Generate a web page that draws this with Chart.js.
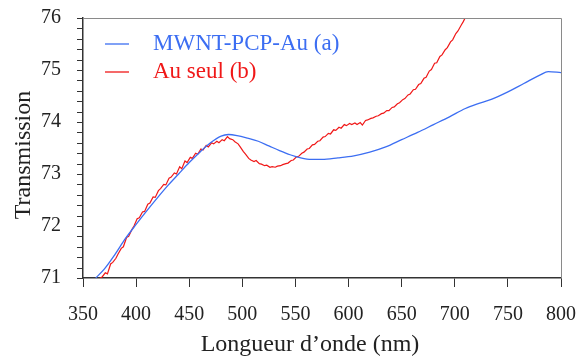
<!DOCTYPE html>
<html>
<head>
<meta charset="utf-8">
<script src="https://cdn.jsdelivr.net/npm/chart.js@4/dist/chart.umd.min.js"></script>
<style>
    html, body { margin: 0; padding: 0; background: #fff; }
    #wrap { width: 580px; height: 356px; position: relative; }
</style>
</head>
<body>
<div id="wrap"><canvas id="transChart"></canvas></div>
<script>
// ===== Data =====
const seriesNames = ['MWNT-PCP-Au (a)', 'Au seul (b)'];
const xTitle = 'Longueur d\u2019onde (nm)';
const yTitle = 'Transmission';
const xTicks = [350, 400, 450, 500, 550, 600, 650, 700, 750, 800];
const yTicks = [71, 72, 73, 74, 75, 76];
const yMinorPerMajor = 5;

// Courbe (a) MWNT-PCP-Au
const blueWl = [362, 370, 380, 390, 400, 410, 420, 430, 440, 450, 460, 470, 480, 487, 495, 505, 515, 525, 535, 545, 555, 565, 575, 590, 605, 620, 635, 650, 665, 680, 695, 710, 720, 735, 750, 765, 780, 788, 800];
const blueT = [71.0, 71.17, 71.45, 71.76, 72.03, 72.29, 72.54, 72.78, 73.0, 73.22, 73.42, 73.6, 73.73, 73.76, 73.74, 73.69, 73.63, 73.54, 73.45, 73.37, 73.31, 73.28, 73.28, 73.31, 73.35, 73.42, 73.52, 73.66, 73.8, 73.95, 74.1, 74.26, 74.34, 74.44, 74.58, 74.74, 74.9, 74.97, 74.95];

// Courbe (b) Au seul
const redWl = [366, 368, 371, 373, 376, 378, 381, 383, 386, 388, 391, 393, 396, 398, 401, 403, 406, 408, 411, 413, 416, 418, 421, 423, 426, 428, 431, 433, 436, 438, 441, 443, 446, 448, 451, 453, 456, 458, 461, 463, 466, 468, 471, 473, 476, 478, 481, 483, 486, 488, 491, 493, 496, 498, 501, 503, 506, 508, 511, 513, 516, 518, 521, 523, 526, 528, 531, 533, 536, 538, 541, 543, 546, 548, 551, 553, 556, 558, 561, 563, 566, 568, 571, 573, 576, 578, 581, 583, 586, 588, 591, 593, 596, 598, 601, 603, 606, 608, 611, 613, 616, 618, 621, 623, 626, 628, 631, 633, 636, 638, 641, 643, 646, 648, 651, 653, 656, 658, 661, 663, 666, 668, 671, 673, 676, 678, 681, 683, 686, 688, 691, 693, 696, 698, 701, 703, 706, 708, 711];
const redT = [71.0, 71.02, 71.1, 71.08, 71.27, 71.3, 71.38, 71.46, 71.57, 71.6, 71.78, 71.8, 71.93, 72.0, 72.14, 72.16, 72.27, 72.28, 72.42, 72.44, 72.56, 72.55, 72.68, 72.72, 72.8, 72.79, 72.92, 72.94, 73.02, 73.0, 73.14, 73.1, 73.25, 73.22, 73.32, 73.3, 73.4, 73.38, 73.48, 73.46, 73.55, 73.52, 73.6, 73.58, 73.63, 73.6, 73.66, 73.64, 73.72, 73.68, 73.66, 73.62, 73.58, 73.52, 73.43, 73.38, 73.3, 73.27, 73.24, 73.26, 73.2, 73.19, 73.16, 73.17, 73.13, 73.14, 73.13, 73.15, 73.16, 73.18, 73.2, 73.21, 73.26, 73.27, 73.33, 73.34, 73.4, 73.42, 73.48, 73.49, 73.56, 73.57, 73.63, 73.64, 73.71, 73.72, 73.78, 73.77, 73.85, 73.84, 73.9, 73.88, 73.95, 73.93, 73.97, 73.95, 73.98, 73.95, 73.99, 73.94, 74.03, 74.04, 74.07, 74.08, 74.11, 74.12, 74.16, 74.17, 74.22, 74.22, 74.28, 74.29, 74.35, 74.37, 74.43, 74.45, 74.52, 74.54, 74.62, 74.63, 74.72, 74.74, 74.84, 74.86, 74.98, 75.01, 75.13, 75.14, 75.26, 75.29, 75.39, 75.43, 75.54, 75.58, 75.7, 75.75, 75.86, 75.93, 76.05];

const BLUE = '#3c6ef2';
const RED = '#f01818';
const FONT = "'Liberation Serif', 'DejaVu Serif', serif";

const toPoints = (xs, ys) => xs.map((x, i) => ({ x: x, y: ys[i] }));

// valeurs des ticks Y (majeurs + mineurs)
const yTickValues = () => {
    const out = [];
    for (let i = 0; i < yTicks.length; i++) {
        out.push(yTicks[i]);
        if (i < yTicks.length - 1) {
            const step = (yTicks[i + 1] - yTicks[i]) / yMinorPerMajor;
            for (let k = 1; k < yMinorPerMajor; k++) out.push(yTicks[i] + k * step);
        }
    }
    return out;
};

// cadre gris, ticks Y, titres des axes et legende
const framePlugin = {
    id: 'frame',
    afterDatasetsDraw(chart) {
        const { ctx, chartArea: a, scales } = chart;
        ctx.save();
        ctx.strokeStyle = '#8a8a8a';
        ctx.lineWidth = 1;
        ctx.beginPath();
        ctx.moveTo(a.left, a.top + 0.5);
        ctx.lineTo(a.right + 0.5, a.top + 0.5);
        ctx.lineTo(a.right + 0.5, a.bottom);
        ctx.stroke();

        // petits traits de l'axe Y
        ctx.strokeStyle = '#333';
        ctx.lineWidth = 1;
        ctx.beginPath();
        yTickValues().forEach(v => {
            const py = Math.round(scales.y.getPixelForValue(v)) + 0.5;
            ctx.moveTo(a.left - 6, py);
            ctx.lineTo(a.left, py);
        });
        ctx.stroke();

        // titres
        ctx.fillStyle = '#222';
        ctx.font = '24px ' + FONT;
        ctx.textAlign = 'center';
        ctx.textBaseline = 'alphabetic';
        ctx.fillText(xTitle, 310, 351);
        ctx.save();
        ctx.translate(30, 155);
        ctx.rotate(-Math.PI / 2);
        ctx.fillText(yTitle, 0, 0);
        ctx.restore();

        // legende
        const items = [
            { name: seriesNames[0], color: BLUE, y: 44 },
            { name: seriesNames[1], color: RED, y: 72 }
        ];
        ctx.font = '23px ' + FONT;
        ctx.textAlign = 'left';
        ctx.textBaseline = 'middle';
        items.forEach(it => {
            ctx.strokeStyle = it.color;
            ctx.lineWidth = 1.3;
            ctx.beginPath();
            ctx.moveTo(105, it.y);
            ctx.lineTo(129, it.y);
            ctx.stroke();
            ctx.fillStyle = it.color;
            ctx.fillText(it.name, 153, it.y);
        });
        ctx.restore();
    }
};

const ctx = document.getElementById('transChart').getContext('2d');
new Chart(ctx, {
    type: 'line',
    data: {
        datasets: [
            {
                label: seriesNames[0],
                data: toPoints(blueWl, blueT),
                borderColor: BLUE,
                borderWidth: 1.3,
                pointRadius: 0,
                cubicInterpolationMode: 'monotone'
            },
            {
                label: seriesNames[1],
                data: toPoints(redWl, redT),
                borderColor: RED,
                borderWidth: 1.2,
                pointRadius: 0,
                tension: 0
            }
        ]
    },
    options: {
        responsive: true,
        maintainAspectRatio: false,
        animation: false,
        layout: { padding: { left: 0, top: 18, right: 19, bottom: 0 } },
        plugins: {
            legend: { display: false },
            tooltip: { enabled: false }
        },
        scales: {
            x: {
                type: 'linear',
                min: xTicks[0],
                max: xTicks[xTicks.length - 1],
                afterFit: s => { s.height = 78; s.paddingLeft = 0; s.paddingRight = 0; },
                afterBuildTicks: s => { s.ticks = xTicks.map(v => ({ value: v })); },
                grid: { drawOnChartArea: false, tickLength: 9, color: '#333', lineWidth: 1 },
                border: { color: '#333', width: 1.5 },
                ticks: { padding: 16, color: '#222', font: { family: FONT, size: 20 } }
            },
            y: {
                type: 'linear',
                min: yTicks[0],
                max: yTicks[yTicks.length - 1],
                afterFit: s => { s.width = 83; s.paddingTop = 0; s.paddingBottom = 0; },
                afterBuildTicks: s => { s.ticks = yTicks.map(v => ({ value: v })); },
                ticks: {
                    padding: 14,
                    color: '#222',
                    font: { family: FONT, size: 20 }
                },
                grid: { display: false },
                border: { color: '#333', width: 1.5 }
            }
        }
    },
    plugins: [framePlugin]
});
</script>
</body>
</html>
